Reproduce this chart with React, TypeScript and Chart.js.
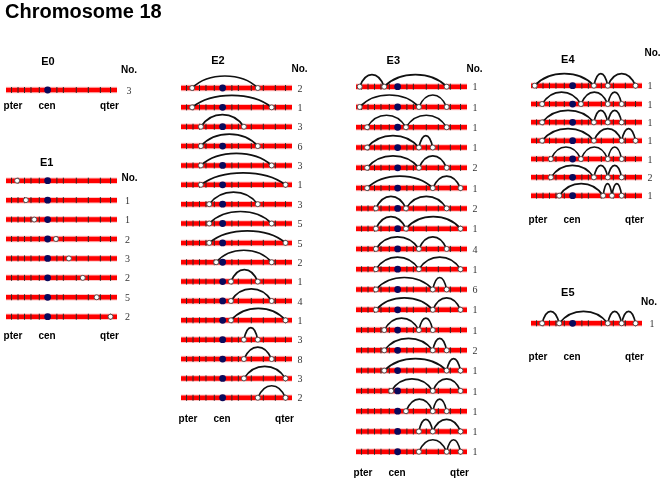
import React, { useEffect, useRef } from "react";
import { Chart, registerables } from "chart.js";
Chart.register(...registerables);

const W = 661;
const H = 483;

// ---- data (chromosome units: pter = 0 ... qter = CHROM_LENGTH) ----
const CHROM_LENGTH = 12;
const CENTROMERE = 4.5;
const BAND_TICKS = [0.6, 1.3, 2.0, 2.7, 3.6, 5.5, 6.2, 7.6, 8.9, 10.2, 11.3];

const E0_BREAKS: number[][] = [[]];
const E0_COUNTS: (number | null)[] = [3];

const E1_BREAKS = [[1.2], [2.15], [3.05], [5.4], [6.8], [8.3], [9.8], [11.3]];
const E1_COUNTS: (number | null)[] = [null, 1, 1, 2, 3, 2, 5, 2];

const E2_BREAKS = [
  [1.2, 8.3], [1.2, 9.8], [2.15, 6.8], [2.15, 8.3], [2.15, 9.8], [2.15, 11.3],
  [3.05, 8.3], [3.05, 9.8], [3.05, 11.3], [3.8, 9.8], [5.4, 8.3], [5.4, 9.8],
  [5.4, 11.3], [6.8, 8.3], [6.8, 9.8], [6.8, 11.3], [8.3, 11.3],
];
const E2_COUNTS: (number | null)[] = [2, 1, 3, 6, 3, 1, 3, 5, 5, 2, 1, 4, 1, 3, 8, 3, 2];

const E3_BREAKS = [
  [0.4, 3.05, 9.8], [0.4, 6.8, 9.8], [1.2, 5.4, 9.8], [1.2, 6.8, 8.3],
  [1.2, 6.8, 9.8], [1.2, 8.3, 11.3], [2.15, 5.4, 9.8], [2.15, 5.4, 11.3],
  [2.15, 6.8, 9.8], [2.15, 6.8, 11.3], [2.15, 8.3, 9.8], [2.15, 8.3, 11.3],
  [3.05, 6.8, 8.3], [3.05, 8.3, 9.8], [3.05, 9.8, 11.3], [3.8, 8.3, 11.3],
  [5.4, 8.3, 9.8], [6.8, 8.3, 11.3], [6.8, 9.8, 11.3],
];
const E3_COUNTS: (number | null)[] = [1, 1, 1, 1, 2, 1, 2, 1, 4, 1, 6, 1, 1, 2, 1, 1, 1, 1, 1];

const E4_BREAKS = [
  [0.4, 6.8, 8.3, 11.3], [1.2, 5.4, 8.3, 9.8], [1.2, 6.8, 8.3, 9.8],
  [1.2, 6.8, 9.8, 11.3], [2.15, 5.4, 8.3, 9.8], [2.15, 6.8, 8.3, 9.8],
  [3.05, 7.8, 8.75, 9.8],
];
const E4_COUNTS: (number | null)[] = [1, 1, 1, 1, 1, 2, 1];

const E5_BREAKS = [[1.2, 3.05, 8.3, 9.8, 11.3]];
const E5_COUNTS: (number | null)[] = [1];

const ARM_LABELS = ["pter", "cen", "qter"];

// ---- layout (pixels) ----
const BAR_PX = 111;
const ARC_H = 12;
const SANS = "'Liberation Sans', Arial, sans-serif";
const SERIF = "'Liberation Serif', 'Times New Roman', serif";

type Panel = {
  name: string;
  breaks: number[][];
  counts: (number | null)[];
  barX: number;
  rowY: number;
  pitch: number;
  titleDx: number;
  titleY: number;
  noDx: number;
  noY: number;
  countDx: number;
  labelY: number;
  mainTitle?: boolean;
};

const PANELS: Panel[] = [
  { name: "E0", breaks: E0_BREAKS, counts: E0_COUNTS, barX: 6, rowY: 90, pitch: 19.4, titleDx: 42, titleY: 62, noDx: 123, noY: 70, countDx: 123, labelY: 106.7, mainTitle: true },
  { name: "E1", breaks: E1_BREAKS, counts: E1_COUNTS, barX: 6, rowY: 180.7, pitch: 19.43, titleDx: 40.7, titleY: 162.7, noDx: 123.5, noY: 178, countDx: 121.5, labelY: 336.7 },
  { name: "E2", breaks: E2_BREAKS, counts: E2_COUNTS, barX: 181, rowY: 88, pitch: 19.36, titleDx: 37, titleY: 60.7, noDx: 118.5, noY: 69.3, countDx: 119, labelY: 419 },
  { name: "E3", breaks: E3_BREAKS, counts: E3_COUNTS, barX: 356, rowY: 86.7, pitch: 20.28, titleDx: 37.3, titleY: 60.7, noDx: 118.5, noY: 69.3, countDx: 119, labelY: 473 },
  { name: "E4", breaks: E4_BREAKS, counts: E4_COUNTS, barX: 531, rowY: 85.7, pitch: 18.33, titleDx: 36.8, titleY: 60, noDx: 121.5, noY: 53.3, countDx: 119, labelY: 220 },
  { name: "E5", breaks: E5_BREAKS, counts: E5_COUNTS, barX: 531, rowY: 323.3, pitch: 19.4, titleDx: 36.8, titleY: 293.3, noDx: 118, noY: 302.7, countDx: 121, labelY: 357.3 },
];
const ARM_DX = [7, 41, 103.5];

function PanelChart({ panel }: { panel: Panel }) {
  const ref = useRef<HTMLCanvasElement>(null);
  useEffect(() => {
    if (!ref.current) return;
    const k = BAR_PX / CHROM_LENGTH;
    const xMin = -panel.barX / k;
    const xMax = (W - panel.barX) / k;
    const yMin = -panel.rowY / panel.pitch;
    const yMax = (H - panel.rowY) / panel.pitch;
    const rows = panel.breaks;

    const datasets: any[] = [];
    datasets.push({
      label: "breaks",
      data: rows.flatMap((b, r) => b.map((x) => ({ x, y: r }))),
      pointRadius: 2.5,
      pointBackgroundColor: "#ffffff",
      pointBorderColor: "#505050",
      pointBorderWidth: 1,
      order: 0,
    });
    datasets.push({
      label: "cen",
      data: rows.map((_, r) => ({ x: CENTROMERE, y: r })),
      pointRadius: 3.4,
      pointBackgroundColor: "#0a0a5c",
      pointBorderColor: "#0a0a5c",
      pointBorderWidth: 0,
      order: 1,
    });
    datasets.push({
      label: "ticks",
      data: rows.flatMap((_, r) => BAND_TICKS.map((x) => ({ x, y: r }))),
      pointStyle: "line",
      rotation: 90,
      pointRadius: 3,
      pointBorderColor: "#2a2a2a",
      pointBorderWidth: 1,
      order: 2,
    });
    rows.forEach((_, r) => {
      datasets.push({
        label: "bar",
        data: [{ x: 0, y: r }, { x: CHROM_LENGTH, y: r }],
        showLine: true,
        borderColor: "#ff0000",
        borderWidth: 4.5,
        pointRadius: 0,
        order: 3,
      });
      datasets.push({
        label: "halo",
        data: [{ x: 0, y: r }, { x: CHROM_LENGTH, y: r }],
        showLine: true,
        borderColor: "rgba(255,90,90,0.35)",
        borderWidth: 6.5,
        pointRadius: 0,
        order: 4,
      });
    });

    const arcPlugin = {
      id: "arcs",
      afterDatasetDraw(chart: any, args: any) {
        if (chart.data.datasets[args.index].label !== "ticks") return;
        const xs = chart.scales.x;
        const ys = chart.scales.y;
        const ctx = chart.ctx;
        ctx.save();
        ctx.strokeStyle = "#111111";
        ctx.lineWidth = 1.7;
        rows.forEach((b, r) => {
          const y = ys.getPixelForValue(r);
          for (let i = 0; i + 1 < b.length; i++) {
            const x1 = xs.getPixelForValue(b[i]);
            const x2 = xs.getPixelForValue(b[i + 1]);
            const w = x2 - x1;
            const c = (4 / 3) * ARC_H;
            ctx.beginPath();
            ctx.moveTo(x1, y);
            ctx.bezierCurveTo(x1 + 0.25 * w, y - c, x2 - 0.25 * w, y - c, x2, y);
            ctx.stroke();
          }
        });
        ctx.restore();
      },
    };

    const textPlugin = {
      id: "texts",
      afterDraw(chart: any) {
        const xs = chart.scales.x;
        const ys = chart.scales.y;
        const ctx = chart.ctx;
        const x0 = xs.getPixelForValue(0);
        ctx.save();
        ctx.textBaseline = "middle";
        ctx.textAlign = "center";
        if (panel.mainTitle) {
          ctx.font = `bold 20px ${SANS}`;
          ctx.textAlign = "left";
          ctx.fillStyle = "#000";
          ctx.fillText("Chromosome 18", 5, 12);
          ctx.textAlign = "center";
        }
        ctx.fillStyle = "#000";
        ctx.font = `bold 11px ${SANS}`;
        ctx.fillText(panel.name, x0 + panel.titleDx, panel.titleY);
        ctx.font = `bold 10px ${SANS}`;
        ctx.fillText("No.", x0 + panel.noDx, panel.noY);
        ARM_LABELS.forEach((t, i) => ctx.fillText(t, x0 + ARM_DX[i], panel.labelY));
        ctx.font = `10px ${SERIF}`;
        ctx.fillStyle = "#333";
        panel.counts.forEach((c, r) => {
          if (c == null) return;
          ctx.fillText(String(c), x0 + panel.countDx, ys.getPixelForValue(r) + 1);
        });
        ctx.restore();
      },
    };

    const chart = new Chart(ref.current, {
      type: "scatter",
      data: { datasets },
      options: {
        animation: false,
        responsive: false,
        devicePixelRatio: 1,
        events: [],
        layout: { padding: 0, autoPadding: false },
        plugins: { legend: { display: false }, tooltip: { enabled: false }, title: { display: false } },
        scales: {
          x: { type: "linear", min: xMin, max: xMax, display: false },
          y: { type: "linear", min: yMin, max: yMax, reverse: true, display: false },
        },
      } as any,
      plugins: [arcPlugin, textPlugin],
    });
    return () => chart.destroy();
  }, [panel]);
  return (
    <canvas
      ref={ref}
      width={W}
      height={H}
      style={{ position: "absolute", left: 0, top: 0, width: W, height: H }}
    />
  );
}

export default function App() {
  return (
    <div style={{ position: "fixed", left: 0, top: 0, width: W, height: H, background: "#ffffff" }}>
      {PANELS.map((p) => (
        <PanelChart key={p.name} panel={p} />
      ))}
    </div>
  );
}
